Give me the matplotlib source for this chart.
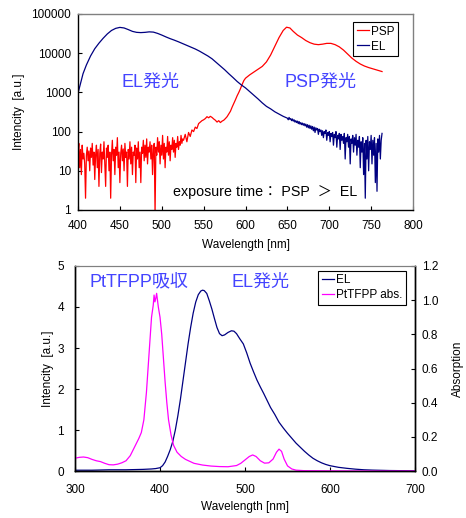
import numpy as np
import matplotlib
matplotlib.use('Agg')
import matplotlib.pyplot as plt
from matplotlib.ticker import FixedLocator, FuncFormatter, NullLocator

plt.rcParams['font.family'] = ['Liberation Sans', 'Noto Sans CJK JP']
plt.rcParams['font.size'] = 8.5

# ---------------- upper panel: PSP / EL emission (log) ----------------
# PSP, noisy part, 1 nm steps from 400 nm
psp_noisy_start = 400
psp_noisy = [30, 50, 12, 35, 8, 45, 20, 28, 15, 2, 25, 40, 18, 32, 10, 38, 22, 50, 14, 30,
             6, 25, 45, 12, 35, 4, 28, 48, 9, 30, 20, 55, 15, 4, 38, 22, 45, 10, 30, 2,
             25, 60, 18, 35, 8, 40, 25, 70, 12, 30, 5, 28, 45, 18, 36, 10, 50, 22, 30, 4,
             35, 20, 55, 15, 40, 8, 30, 25, 45, 5, 38, 20, 55, 12, 30, 5, 40, 28, 60, 18,
             45, 22, 65, 15, 40, 30, 55, 20, 45, 8, 35, 50, 0.8, 40, 25, 70, 30, 55, 15, 45,
             25, 80, 20, 50, 12, 40, 30, 75, 25, 55, 18, 45, 35, 70, 30, 60, 22, 50, 40, 75,
             35, 55, 45, 80, 50, 65]
psp_wl = [526, 528, 530, 532, 534, 536, 538, 540, 542, 544, 546, 548, 550, 552, 554, 556,
          558, 560, 562, 564, 566, 568, 570, 572, 574, 576, 578, 580, 582, 584, 586, 588,
          590, 592, 594, 596, 598, 600, 605, 610, 615, 620, 625, 630, 635, 640, 645, 649,
          653, 657, 662, 667, 672, 677, 682, 687, 692, 697, 702, 707, 712, 717, 722, 727,
          732, 737, 742, 747, 752, 757, 763]
psp_val = [60, 85, 55, 95, 75, 110, 100, 130, 120, 160, 175, 190, 200, 215, 240, 225,
           245, 230, 210, 195, 175, 190, 170, 185, 195, 215, 240, 280, 330, 420, 520, 650,
           820, 1000, 1250, 1600, 2000, 2300, 2800, 3300, 3900, 4600, 6000, 9000, 15000, 25000, 38000, 46000,
           44000, 36000, 29000, 25000, 21000, 18500, 17000, 16500, 17000, 17800, 17800, 16500, 14500, 12000, 9500, 7500,
           6200, 5300, 4700, 4300, 4000, 3700, 3400]

# EL, smooth part
el_wl = [400, 403, 406, 410, 415, 420, 425, 430, 435, 440, 445, 450, 455, 460, 465, 470,
         475, 480, 485, 490, 495, 500, 505, 510, 515, 520, 525, 530, 535, 540, 545, 550,
         555, 560, 565, 570, 575, 580, 585, 590, 595, 600, 605, 610, 615, 620, 625, 630,
         635, 640, 645]
el_val = [950, 1700, 3000, 5000, 8500, 13000, 18000, 24000, 31000, 38000, 43000, 45500, 44000, 40000, 36000, 34000,
          33500, 34000, 35000, 34500, 32000, 29000, 26000, 23500, 21500, 19500, 17500, 15800, 14200, 12800, 11300, 9800,
          8500, 7200, 5800, 4700, 3800, 3000, 2400, 1900, 1550, 1300, 1050, 850, 680, 540, 440, 380,
          320, 280, 245]
# EL, noisy tail, 1 nm steps from 650 nm
el_noisy_start = 650
el_noisy = [220, 200, 230, 205, 215, 190, 210, 185, 200, 175, 190, 170, 185, 160, 180, 155,
            170, 150, 165, 145, 160, 140, 155, 130, 150, 125, 145, 120, 140, 115, 135, 105,
            130, 95, 125, 110, 120, 85, 115, 100, 110, 80, 105, 70, 100, 90, 110, 60,
            95, 80, 100, 55, 90, 75, 95, 45, 85, 70, 100, 40, 80, 65, 90, 35,
            85, 60, 75, 50, 90, 20, 70, 55, 85, 40, 75, 15, 65, 50, 80, 30,
            70, 45, 85, 25, 60, 40, 75, 12, 55, 30, 70, 8, 50, 2.0, 60, 20,
            75, 10, 55, 35, 80, 15, 60, 25, 70, 5, 50, 3, 65, 30, 80, 20,
            60, 90]

# ---------------- lower panel: EL vs PtTFPP absorption ----------------
el2_wl = [300, 320, 340, 360, 380, 390, 395, 400, 403, 406, 409, 412, 415, 418, 421, 424,
          427, 430, 433, 436, 439, 442, 445, 448, 450, 452, 455, 458, 461, 464, 467, 470,
          473, 476, 480, 484, 487, 490, 494, 498, 502, 506, 510, 514, 518, 522, 526, 530,
          535, 540, 545, 550, 555, 560, 565, 570, 575, 580, 585, 590, 595, 600, 610, 620,
          630, 640, 650, 670, 700]
el2_val = [0.02, 0.02, 0.03, 0.03, 0.04, 0.05, 0.06, 0.08, 0.13, 0.22, 0.36, 0.52, 0.72, 1.0, 1.35, 1.75,
           2.2, 2.65, 3.1, 3.5, 3.85, 4.12, 4.3, 4.39, 4.41, 4.4, 4.33, 4.15, 3.95, 3.72, 3.5, 3.35,
           3.3, 3.32, 3.38, 3.42, 3.41, 3.35, 3.22, 3.1, 2.88, 2.63, 2.42, 2.22, 2.05, 1.89, 1.72, 1.55,
           1.38, 1.19, 1.05, 0.92, 0.80, 0.68, 0.58, 0.48, 0.39, 0.31, 0.25, 0.20, 0.16, 0.13, 0.09, 0.065,
           0.045, 0.03, 0.022, 0.012, 0.005]
abs_wl = [300, 305, 310, 315, 320, 325, 330, 335, 340, 345, 350, 355, 360, 365, 370, 375,
          378, 381, 384, 387, 390, 392, 393, 394, 395, 396, 397, 398, 400, 402, 404, 406,
          408, 410, 413, 416, 420, 425, 430, 440, 450, 460, 470, 480, 490, 495, 500, 505,
          509, 513, 518, 523, 528, 533, 537, 540, 543, 546, 550, 555, 560, 570, 600, 650,
          700]
abs_val = [0.075, 0.080, 0.082, 0.078, 0.068, 0.060, 0.055, 0.045, 0.037, 0.036, 0.040, 0.048, 0.060, 0.090, 0.140, 0.190,
           0.225, 0.300, 0.460, 0.680, 0.900, 0.970, 1.030, 0.990, 1.010, 1.040, 1.000, 0.960, 0.900, 0.800, 0.660, 0.520,
           0.400, 0.300, 0.210, 0.150, 0.110, 0.085, 0.068, 0.045, 0.035, 0.029, 0.026, 0.025, 0.032, 0.045, 0.065, 0.085,
           0.094, 0.085, 0.060, 0.046, 0.048, 0.070, 0.110, 0.128, 0.115, 0.070, 0.030, 0.012, 0.005, 0.002, 0.001, 0.0,
           0.0]

top_yticks = [1, 10, 100, 1000, 10000, 100000]

blue_txt = '#4444ff'
navy = '#000080'
grey = '#808080'

fig = plt.figure(figsize=(4.66, 5.18), dpi=100)

# upper panel
ax1 = fig.add_axes([0.1674, 0.5946, 0.7189, 0.3784])
psp_x = np.concatenate([psp_noisy_start + np.arange(len(psp_noisy)), psp_wl])
psp_y = np.concatenate([psp_noisy, psp_val])
el_x = np.concatenate([el_wl, el_noisy_start + np.arange(len(el_noisy))])
el_y = np.concatenate([el_val, el_noisy])
ax1.plot(psp_x, psp_y, color='red', lw=0.9, label='PSP')
ax1.plot(el_x, el_y, color=navy, lw=0.9, label='EL')
ax1.set_yscale('log')
ax1.set_xlim(400, 800)
ax1.set_ylim(1, 100000)
ax1.xaxis.set_major_locator(FixedLocator(range(400, 801, 50)))
ax1.yaxis.set_major_locator(FixedLocator(top_yticks))
ax1.yaxis.set_major_formatter(FuncFormatter(lambda v, p: '%d' % v))
ax1.yaxis.set_minor_locator(NullLocator())
ax1.tick_params(axis='x', direction='in', length=3, width=0.8, pad=7)
ax1.tick_params(axis='y', direction='in', length=3, width=0.8, pad=5)
ax1.set_xlabel('Wavelength [nm]', va='center')
ax1.set_ylabel('Intencity  [a.u.]', va='center')
ax1.xaxis.set_label_coords(0.5, -0.179)
ax1.yaxis.set_label_coords(-0.176, 0.5)
for s in ['left', 'bottom']:
    ax1.spines[s].set_linewidth(1.0)
for s in ['top', 'right']:
    ax1.spines[s].set_color(grey)
    ax1.spines[s].set_linewidth(1.0)
leg1 = ax1.legend(loc='upper right', bbox_to_anchor=(0.854, 0.9575), bbox_transform=fig.transFigure,
                  fontsize=8.5, fancybox=False, edgecolor='black', framealpha=1,
                  handlelength=1.0, handletextpad=0.2, borderpad=0.3, labelspacing=0.25, borderaxespad=0)
leg1.get_frame().set_linewidth(0.8)

fig.text(0.324, 0.842, 'EL発光', color=blue_txt, fontsize=13, ha='center', va='center')
fig.text(0.687, 0.842, 'PSP発光', color=blue_txt, fontsize=13, ha='center', va='center')
fig.text(0.371, 0.629, 'exposure time： PSP  ＞  EL', color='black', fontsize=10.3, ha='left', va='center')

# lower panel
ax2 = fig.add_axes([0.161, 0.0907, 0.7296, 0.3958])
ax3 = ax2.twinx()
l1, = ax2.plot(el2_wl, el2_val, color=navy, lw=0.9, label='EL')
l2, = ax3.plot(abs_wl, abs_val, color='#ff00ff', lw=0.9, label='PtTFPP abs.')
ax2.set_xlim(300, 700)
ax2.set_ylim(0, 5)
ax3.set_ylim(0, 1.2)
ax2.xaxis.set_major_locator(FixedLocator(range(300, 701, 100)))
ax2.yaxis.set_major_locator(FixedLocator(range(0, 6)))
ax3.yaxis.set_major_locator(FixedLocator([0, 0.2, 0.4, 0.6, 0.8, 1.0, 1.2]))
ax3.yaxis.set_major_formatter(FuncFormatter(lambda v, p: '%.1f' % v))
ax2.tick_params(axis='x', direction='in', length=3, width=0.8, pad=9)
ax2.tick_params(axis='y', direction='in', length=3, width=0.8, pad=8)
ax3.tick_params(axis='y', direction='in', length=3, width=0.8, pad=5)
ax2.set_xlabel('Wavelength [nm]', va='center')
ax2.set_ylabel('Intencity  [a.u.]', va='center')
ax3.set_ylabel('Absorption', va='center')
ax2.xaxis.set_label_coords(0.5, -0.176)
ax2.yaxis.set_label_coords(-0.079, 0.5)
ax3.yaxis.set_label_coords(1.126, 0.5)
for a in (ax2, ax3):
    a.spines['top'].set_color(grey)
    for s in ['left', 'bottom', 'right']:
        a.spines[s].set_linewidth(1.0)
leg2 = ax3.legend([l1, l2], ['EL', 'PtTFPP abs.'], loc='upper right', bbox_to_anchor=(0.871, 0.477),
                  bbox_transform=fig.transFigure, fontsize=8.5, fancybox=False, edgecolor='black',
                  framealpha=1, handlelength=1.0, handletextpad=0.2, borderpad=0.3,
                  labelspacing=0.25, borderaxespad=0)
leg2.get_frame().set_linewidth(0.8)

fig.text(0.298, 0.456, 'PtTFPP吸収', color=blue_txt, fontsize=13, ha='center', va='center')
fig.text(0.558, 0.456, 'EL発光', color=blue_txt, fontsize=13, ha='center', va='center')

fig.savefig('out.png', dpi=100)
